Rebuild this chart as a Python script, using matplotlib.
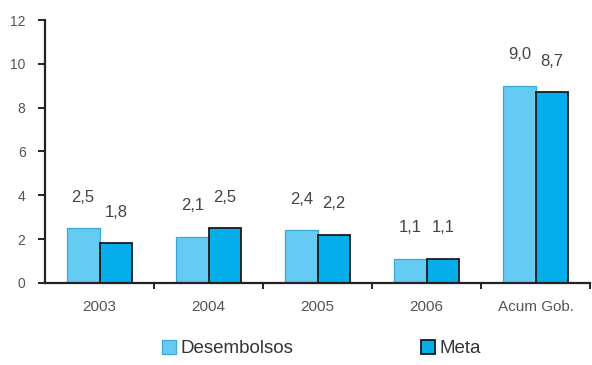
import matplotlib
matplotlib.use('Agg')

import numpy as np
import matplotlib.pyplot as plt

# data
categories = ['2003', '2004', '2005', '2006', 'Acum Gob.']
desembolsos = [2.5, 2.1, 2.4, 1.1, 9.0]
meta = [1.8, 2.5, 2.2, 1.1, 8.7]
yticks = [0, 2, 4, 6, 8, 10, 12]

plt.rcParams['font.family'] = ['Liberation Sans', 'DejaVu Sans']

fig = plt.figure(figsize=(5.92, 3.65), dpi=100)
ax = fig.add_axes([0.076, 0.225, 0.921, 0.72])

x = np.arange(len(categories))
w = 0.3
light = '#66cbf3'
dark = '#05aeea'

b1 = ax.bar(x - w / 2, desembolsos, w, color=light, edgecolor='#3aa9d6', linewidth=0.9,
            label='Desembolsos')
b2 = ax.bar(x + w / 2, meta, w, color=dark, edgecolor='#1a1a1a', linewidth=1.3,
            label='Meta')

# value labels with comma decimal
for bars, vals in [(b1, desembolsos), (b2, meta)]:
    for r, v in zip(bars, vals):
        ax.annotate(f'{v:.1f}'.replace('.', ','),
                    (r.get_x() + r.get_width() / 2, v),
                    xytext=(0, 17), textcoords='offset points',
                    ha='center', va='bottom', fontsize=12, color='#444444')

ax.set_xlim(-0.5, 4.5)
ax.set_ylim(0, 12)
ax.set_yticks(yticks)
ax.tick_params(axis='y', direction='out', length=5, width=1.4, colors='#222222',
               labelcolor='#555555', labelsize=10, pad=9)

# ticks between groups, labels at centres
ax.set_xticks(np.arange(0.5, 4.6, 1))
ax.set_xticklabels([])
ax.tick_params(axis='x', which='major', direction='out', length=4, width=1.4, colors='#222222')
ax.set_xticks(x, minor=True)
ax.set_xticklabels(categories, minor=True)
ax.tick_params(axis='x', which='minor', length=0, pad=12, labelsize=11, labelcolor='#555555')

for s in ['top', 'right']:
    ax.spines[s].set_visible(False)
for s in ['left', 'bottom']:
    ax.spines[s].set_linewidth(1.6)
    ax.spines[s].set_color('#222222')

fig.legend(handles=[b1, b2], loc='lower left', bbox_to_anchor=(0.245, -0.025), ncol=2,
           frameon=False, fontsize=13.5, handlelength=0.75, handleheight=0.75,
           handletextpad=0.25, columnspacing=6.8, labelcolor='#333333')

fig.savefig('out.png', dpi=100)
